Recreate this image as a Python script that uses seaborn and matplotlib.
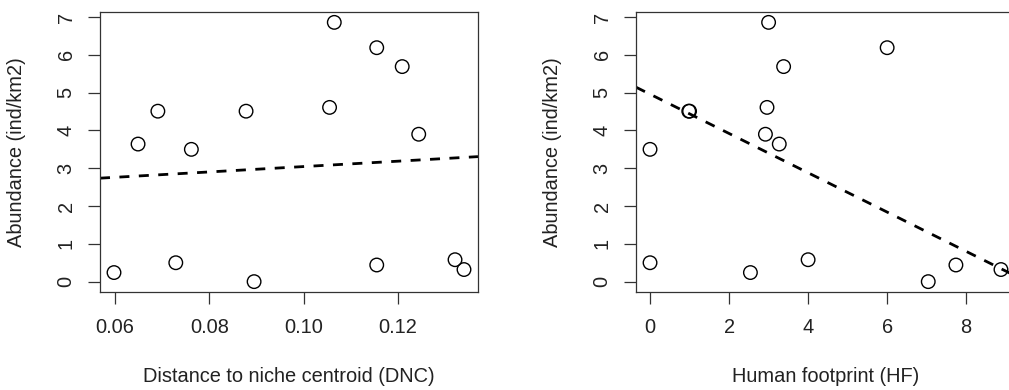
import numpy as np
import pandas as pd
import seaborn as sns
import matplotlib
matplotlib.use("Agg")
import matplotlib.pyplot as plt

# Data
dnc = [0.0598, 0.0649, 0.0691, 0.0729, 0.0762, 0.0878, 0.0895, 0.1055,
       0.1065, 0.1155, 0.1155, 0.1209, 0.1244, 0.1321, 0.1340]
hf = [2.54, 3.27, 0.98, 0.0, 0.0, 1.0, 7.04, 2.96,
      3.00, 6.0, 7.74, 3.38, 2.92, 4.0, 8.88]
abundance = [0.24, 3.64, 4.51, 0.50, 3.50, 4.51, 0.0, 4.61,
             6.86, 6.19, 0.44, 5.69, 3.90, 0.58, 0.32]

# fitted line shown in the HF panel (model coefficients)
hf_fit_intercept = 4.96
hf_fit_slope = -0.52

dnc_ticks = [0.06, 0.08, 0.10, 0.12]
dnc_ticklabels = ["0.06", "0.08", "0.10", "0.12"]
hf_ticks = [0, 2, 4, 6, 8]
y_ticks = [0, 1, 2, 3, 4, 5, 6, 7]

df = pd.DataFrame({"dnc": dnc, "hf": hf, "abundance": abundance})

sns.set_style("ticks")
plt.rcParams["font.family"] = ["Liberation Sans", "DejaVu Sans"]
txt = "#222222"
FS = 14.4

fig = plt.figure(figsize=(10.09, 3.90), dpi=100)
W, H = 1009, 390
ax1 = fig.add_axes([100 / W, (H - 292) / H, 378 / W, 280 / H])
ax2 = fig.add_axes([636 / W, (H - 292) / H, 379 / W, 280 / H])


def r_lim(vals):
    lo, hi = min(vals), max(vals)
    d = (hi - lo) * 0.04
    return lo - d, hi + d


dash = (0, (3.6, 3.4))
panels = [
    (ax1, "dnc", "Distance to niche centroid (DNC)", dnc_ticks, dnc_ticklabels),
    (ax2, "hf", "Human footprint (HF)", hf_ticks, [str(t) for t in hf_ticks]),
]

for ax, xcol, xlabel, xt, xtl in panels:
    ax.set_xlim(*r_lim(df[xcol]))
    ax.set_ylim(*r_lim(df["abundance"]))
    if xcol == "dnc":
        sns.regplot(data=df, x=xcol, y="abundance", ax=ax, scatter=False, ci=None,
                    truncate=False,
                    line_kws=dict(color="black", lw=2.0, linestyle=dash))
    else:
        ax.axline((0, hf_fit_intercept), slope=hf_fit_slope, color="black",
                  lw=2.0, linestyle=dash)
    sns.scatterplot(data=df, x=xcol, y="abundance", ax=ax, s=95,
                    facecolor="none", edgecolor="black", linewidth=1.0,
                    zorder=3, clip_on=False)
    ax.set_xlim(*r_lim(df[xcol]))
    ax.set_ylim(*r_lim(df["abundance"]))
    ax.set_xticks(xt)
    ax.set_xticklabels(xtl)
    ax.set_yticks(y_ticks)
    ax.set_yticklabels([str(t) for t in y_ticks], rotation=90, va="center")
    ax.tick_params(axis="both", length=8.6, width=0.9, color="#333333",
                   labelsize=FS, labelcolor=txt, pad=10)
    ax.tick_params(axis="y", pad=9)
    for sp in ax.spines.values():
        sp.set_visible(True)
        sp.set_color("#333333")
        sp.set_linewidth(0.9)
    ax.set_xlabel(xlabel, fontsize=FS, color=txt, labelpad=22)
    ax.set_ylabel("Abundance (ind/km2)", fontsize=FS, color=txt, labelpad=22)

fig.savefig("out.png", dpi=100)
